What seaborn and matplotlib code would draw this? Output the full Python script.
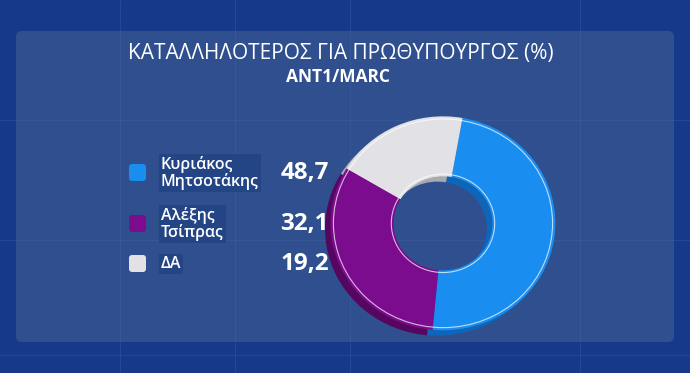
import matplotlib
matplotlib.use("Agg")
import matplotlib.pyplot as plt
from matplotlib.patches import FancyBboxPatch
import seaborn as sns

sns.set_theme(style="white")
plt.rcParams['font.family'] = ['Open Sans', 'Noto Sans', 'DejaVu Sans']

# data
candidates = ["Κυριάκος\nΜητσοτάκης", "Αλέξης\nΤσίπρας", "ΔΑ"]
shares = [48.7, 32.1, 19.2]
share_labels = ["48,7", "32,1", "19,2"]
colors = ["#1a8ef0", "#7c0c8e", "#e2e2e6"]
side_colors = ["#0f66b8", "#55065f", "#a9a9b2"]

title = "ΚΑΤΑΛΛΗΛΟΤΕΡΟΣ ΓΙΑ ΠΡΩΘΥΠΟΥΡΓΟΣ (%)"
subtitle = "ANT1/MARC"

W, H = 690, 373
fig = plt.figure(figsize=(W / 100, H / 100), dpi=100)
fig.patch.set_facecolor("#17398a")

# background in pixel coords
bg = fig.add_axes([0, 0, 1, 1])
bg.set_xlim(0, W)
bg.set_ylim(H, 0)
bg.axis("off")
for x in [120, 235, 350, 580]:
    bg.axvline(x, color="#4a6bb0", lw=0.6, alpha=0.35)
for y in [120, 240, 355]:
    bg.axhline(y, color="#4a6bb0", lw=0.6, alpha=0.35)
bg.add_patch(FancyBboxPatch((16, 31), 658, 311, boxstyle="round,pad=0,rounding_size=6",
                            facecolor="#34538f", edgecolor="none", alpha=0.85))

bg.text(341, 53, title, ha="center", va="center", fontsize=15, color="white")
bg.text(338, 77, subtitle, ha="center", va="center", fontsize=12.5,
        fontweight="bold", color="white")

# legend rows
row_y = [173, 224, 264]
for name, lab, c, y in zip(candidates, share_labels, colors, row_y):
    bg.add_patch(FancyBboxPatch((129, y - 9), 17, 17, boxstyle="round,pad=0,rounding_size=3",
                                facecolor=c, edgecolor="none"))
    bg.text(161, y, name, ha="left", va="center", fontsize=11.5, color="white",
            linespacing=1.0, fontweight="semibold",
            bbox=dict(boxstyle="square,pad=0.12", facecolor="#244585", edgecolor="none"))
    bg.text(329, y, lab, ha="right", va="center", fontsize=17.5, fontweight="bold",
            color="white")

# donut: side (3D depth) then top face
ax = fig.add_axes([(443 - 118) / W, (H - 226 - 115) / H, 236 / W, 230 / H])
ax.pie(shares, colors=side_colors, startangle=80, counterclock=False,
       center=(-0.05, -0.05), radius=1.0,
       wedgeprops=dict(width=0.56, linewidth=0))
ax.pie(shares, colors=colors, startangle=80, counterclock=False,
       radius=1.0, wedgeprops=dict(width=0.56, linewidth=0.8, edgecolor="none"))
circ_out = plt.Circle((0, 0), 0.975, fill=False, color="white", lw=0.8, alpha=0.7)
circ_in = plt.Circle((0, 0), 0.46, fill=False, color="white", lw=0.8, alpha=0.7)
ax.add_patch(circ_out)
ax.add_patch(circ_in)
ax.set_xlim(-1.05, 1.05)
ax.set_ylim(-1.1, 1.05)
ax.set_aspect("auto")
ax.axis("off")

fig.savefig("out.png", dpi=100, facecolor=fig.get_facecolor())
